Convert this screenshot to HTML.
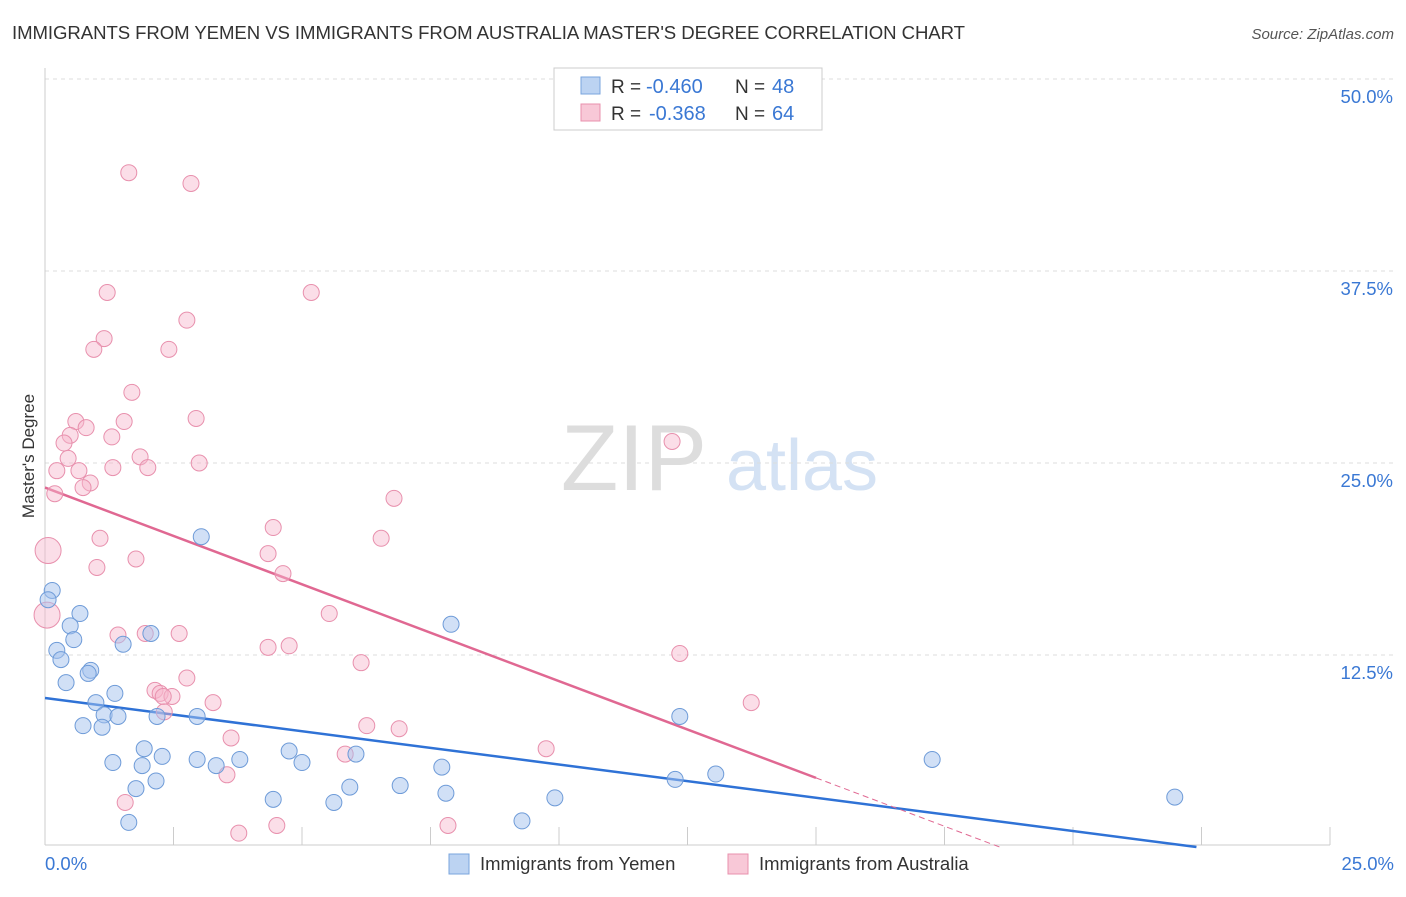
<!DOCTYPE html>
<html><head><meta charset="utf-8"><style>
body{margin:0;background:#fff;font-family:"Liberation Sans",sans-serif;}
svg text{font-family:"Liberation Sans",sans-serif;}
</style></head><body>
<svg id="c" width="1406" height="892" xmlns="http://www.w3.org/2000/svg">
<text x="12" y="39" font-size="18.6" fill="#333" textLength="953">IMMIGRANTS FROM YEMEN VS IMMIGRANTS FROM AUSTRALIA MASTER'S DEGREE CORRELATION CHART</text>
<text x="1394" y="39" font-size="15" fill="#555" font-style="italic" text-anchor="end">Source: ZipAtlas.com</text>
<text x="34" y="456" font-size="17" fill="#333" text-anchor="middle" transform="rotate(-90 34 456)">Master's Degree</text>
<g>
<text x="634" y="490" font-size="94" fill="#ddd" font-family="Liberation Serif" text-anchor="middle">ZIP</text>
<text x="802" y="490" font-size="72" fill="#d4e2f4" text-anchor="middle">atlas</text>
</g>
<g id="grid"></g><g id="axes"></g><g id="trend"></g><g id="pts"></g>
<g>
<rect x="554" y="68" width="268" height="62" fill="#fff" stroke="#ccc"/>
<rect x="581" y="77" width="19" height="17" fill="#bcd3f2" stroke="#7aa4dd"/>
<rect x="581" y="104" width="19" height="17" fill="#f8c8d7" stroke="#e890ad"/>
<text x="611" y="93" font-size="19" fill="#333">R =</text>
<text x="646" y="93" font-size="20" fill="#3a78d4">-0.460</text>
<text x="735" y="93" font-size="19" fill="#333">N =</text>
<text x="772" y="93" font-size="20" fill="#3a78d4">48</text>
<text x="611" y="120" font-size="19" fill="#333">R =</text>
<text x="649" y="120" font-size="20" fill="#3a78d4">-0.368</text>
<text x="735" y="120" font-size="19" fill="#333">N =</text>
<text x="772" y="120" font-size="20" fill="#3a78d4">64</text>
</g>
<g>
<rect x="449" y="854" width="20" height="20" fill="#bcd3f2" stroke="#7aa4dd"/>
<text x="480" y="870" font-size="18.5" fill="#333">Immigrants from Yemen</text>
<rect x="728" y="854" width="20" height="20" fill="#f8c8d7" stroke="#e890ad"/>
<text x="759" y="870" font-size="18.5" fill="#333">Immigrants from Australia</text>
</g>
</svg>
<script>
const yTicks=[12.5,25,37.5,50];
const yTickLabels=["12.5%","25.0%","37.5%","50.0%"];
const blueX=[0.14,0.06,0.68,0.49,0.56,0.23,0.31,0.41,0.89,0.84,0.99,1.36,1.15,1.42,0.74,1.11,2.06,1.52,3.04,7.9,1.93,1.32,1.89,2.28,2.18,2.96,2.96,3.33,3.79,2.16,1.77,1.63,4.75,5.0,6.05,4.44,5.62,5.93,6.91,7.72,7.8,9.28,9.92,12.35,12.26,13.05,17.26,21.98];
const blueY=[16.7,16.1,15.2,14.4,13.5,12.8,12.2,10.7,11.5,11.3,9.4,10.0,8.6,8.5,7.9,7.8,13.9,13.2,20.2,14.5,6.4,5.5,5.3,5.9,8.5,8.5,5.7,5.3,5.7,4.3,3.8,1.6,6.25,5.5,6.05,3.1,2.9,3.9,4.0,5.2,3.5,1.7,3.2,8.5,4.4,4.75,5.7,3.25];
const pinkX=[1.63,2.84,1.21,5.18,2.76,1.15,0.95,2.41,1.69,0.6,2.94,1.54,0.8,0.49,0.37,1.3,12.2,0.45,1.85,1.32,2.0,3.0,0.23,0.66,0.88,0.74,0.19,6.79,4.44,1.07,6.54,0.06,4.34,1.77,1.01,4.63,5.53,0.04,1.42,1.95,2.61,4.75,4.34,12.35,6.15,2.76,2.14,2.24,2.47,2.3,3.27,13.74,2.32,6.26,3.62,6.89,9.75,5.84,3.54,1.56,4.51,7.84,3.77];
const pinkY=[43.9,43.2,36.1,36.1,34.3,33.1,32.4,32.4,29.6,27.7,27.9,27.7,27.3,26.8,26.3,26.7,26.4,25.3,25.4,24.7,24.7,25.0,24.5,24.5,23.7,23.4,23.0,22.7,20.8,20.1,20.1,19.3,19.1,18.75,18.2,17.8,15.2,15.1,13.8,13.9,13.9,13.1,13.0,12.6,12.0,11.0,10.2,10.0,9.8,9.8,9.4,9.4,8.8,7.9,7.1,7.7,6.4,6.05,4.7,2.9,1.4,1.4,0.9];
const pinkR=pinkX.map((v,i)=>(i===31||i===37)?13:8);
const blueTrend=[9.7,-0.433];
const pinkTrend=[23.4,-1.26];
const NS="http://www.w3.org/2000/svg";
const X=v=>45+v*51.4, Y=v=>847-v*15.36;
function mk(p,t,a){const e=document.createElementNS(NS,t);for(const k in a)e.setAttribute(k,a[k]);p.appendChild(e);return e;}
const grid=document.getElementById('grid'),axes=document.getElementById('axes'),trend=document.getElementById('trend'),pts=document.getElementById('pts');
yTicks.forEach((t,i)=>{
 const l=mk(grid,'line',{x1:45,x2:1394,y1:Y(t),y2:Y(t),stroke:'#ddd','stroke-dasharray':'4 4'});
 
 
 const tx=mk(axes,'text',{x:1393,y:Y(t)+24,'font-size':18.5,fill:'#3a78d4','text-anchor':'end'});
 tx.textContent=yTickLabels[i];
 
 
});
const ax=mk(axes,'line',{x1:45,x2:1330,y1:845,y2:845,stroke:'#ccc'});


const ay=mk(axes,'line',{x1:45,x2:45,y1:68,y2:845,stroke:'#ccc'});


for(let i=0;i<=10;i++){const t=mk(axes,'line',{x1:X(i*2.5),x2:X(i*2.5),y1:827,y2:845,stroke:'#ccc'});
 
 }
[[0,"0.0%",'start',45],[25,"25.0%",'end',1394]].forEach(([v,s,a,x])=>{const t=mk(axes,'text',{x:x,y:870,'font-size':18.5,fill:'#3a78d4','text-anchor':a});t.textContent=s;
 
 });
const b1=mk(trend,'line',{x1:X(0),y1:Y(blueTrend[0]),x2:X(-blueTrend[0]/blueTrend[1]),y2:Y(0),stroke:'#2f72d6','stroke-width':2.5});


const pz=-pinkTrend[0]/pinkTrend[1];
const p1=mk(trend,'line',{x1:X(0),y1:Y(pinkTrend[0]),x2:X(15),y2:Y(pinkTrend[0]+pinkTrend[1]*15),stroke:'#e06892','stroke-width':2.5});


const p2=mk(trend,'line',{x1:X(15),y1:Y(pinkTrend[0]+pinkTrend[1]*15),x2:X(pz),y2:Y(0),stroke:'#e06892','stroke-width':1,'stroke-dasharray':'6 4'});


pinkX.forEach((x,i)=>{const c=mk(pts,'circle',{cx:X(x),cy:Y(pinkY[i]),r:pinkR[i],fill:'rgba(246,182,204,0.45)',stroke:'#e890ad','stroke-width':1});
 
 });
blueX.forEach((x,i)=>{const c=mk(pts,'circle',{cx:X(x),cy:Y(blueY[i]),r:8,fill:'rgba(164,194,238,0.5)',stroke:'#6e9bd8','stroke-width':1});
 
 });
</script>
</body></html>
